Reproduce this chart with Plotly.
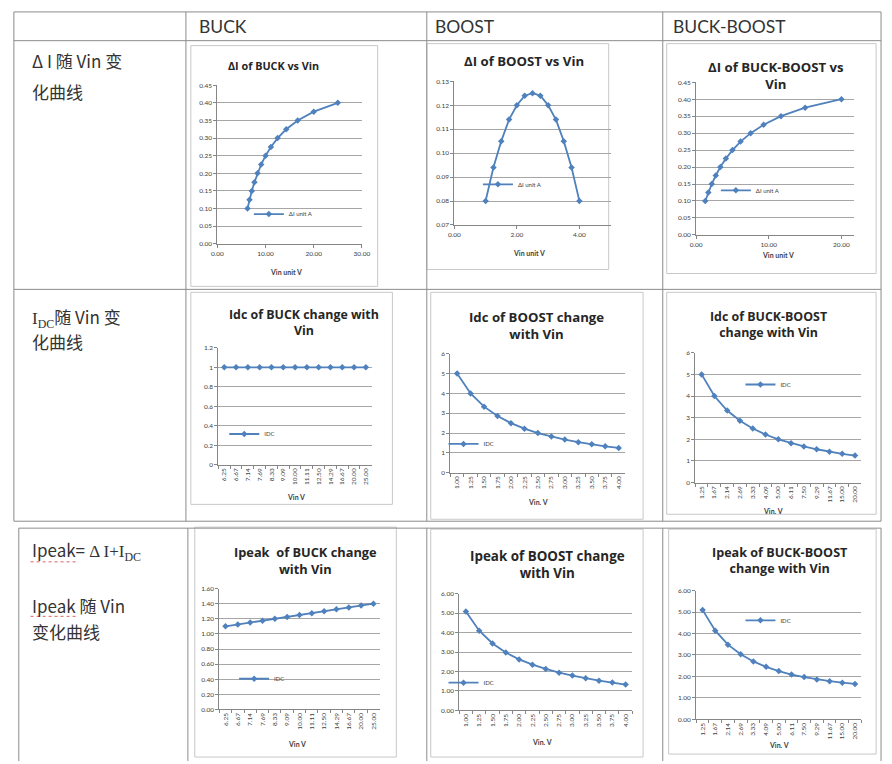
import plotly.graph_objects as go

W, H = 892, 764
def X(p): return p / W
def Y(p): return 1 - p / H

# ---------------- data ----------------
header_labels = ["BUCK", "BOOST", "BUCK-BOOST"]
vin_buck = [6.25, 6.67, 7.14, 7.69, 8.33, 9.09, 10.00, 11.11, 12.50, 14.29, 16.67, 20.00, 25.00]
vin_boost = [1.00, 1.25, 1.50, 1.75, 2.00, 2.25, 2.50, 2.75, 3.00, 3.25, 3.50, 3.75, 4.00]
vin_bb = [1.25, 1.67, 2.14, 2.69, 3.33, 4.09, 5.00, 6.11, 7.50, 9.29, 11.67, 15.00, 20.00]

di_buck = [0.100, 0.125, 0.150, 0.175, 0.200, 0.225, 0.250, 0.275, 0.300, 0.325, 0.350, 0.375, 0.400]
di_boost = [0.080, 0.094, 0.105, 0.114, 0.120, 0.124, 0.125, 0.124, 0.120, 0.114, 0.105, 0.094, 0.080]
di_bb = [0.100, 0.125, 0.150, 0.175, 0.200, 0.225, 0.250, 0.275, 0.300, 0.325, 0.350, 0.375, 0.400]

idc_buck = [1, 1, 1, 1, 1, 1, 1, 1, 1, 1, 1, 1, 1]
idc_boost = [5.00, 4.00, 3.33, 2.86, 2.50, 2.22, 2.00, 1.82, 1.67, 1.54, 1.43, 1.33, 1.25]
idc_bb = [5.00, 4.00, 3.33, 2.86, 2.50, 2.22, 2.00, 1.82, 1.67, 1.54, 1.43, 1.33, 1.25]

ipk_buck = [1.100, 1.125, 1.150, 1.175, 1.200, 1.225, 1.250, 1.275, 1.300, 1.325, 1.350, 1.375, 1.400]
ipk_boost = [5.08, 4.09, 3.44, 2.97, 2.62, 2.35, 2.13, 1.94, 1.79, 1.65, 1.53, 1.43, 1.33]
ipk_bb = [5.10, 4.13, 3.48, 3.03, 2.70, 2.45, 2.25, 2.09, 1.97, 1.86, 1.78, 1.71, 1.65]

series_di = "ΔI unit A"
series_idc = "IDC"

BLUE = "#4F81BD"
GRID = "#a6a6a6"
AXC = "#868686"
TXT = "#404040"
LAT = "Lato, 'Open Sans', sans-serif"
OPS = "'Open Sans', Lato, sans-serif"
CJK = "'Noto Sans CJK SC', sans-serif"
SERIF = "'Liberation Serif', 'DejaVu Serif', serif"

# ---------------- chart specs ----------------
charts = [
    dict(x=vin_buck, y=di_buck, name=series_di, cat=False,
         title="ΔI of BUCK vs Vin", tpos=(272, 62), tsize=10.8,
         dom=(215, 362, 82, 242), xr=[0, 30], xd=10, yr=[0, 0.45], yd=0.05, yf=".2f",
         xt="Vin unit V", xtpos=(285, 270), leg=(247, 212), box=(188, 42, 378, 285)),
    dict(x=vin_boost, y=di_boost, name=series_di, cat=False,
         title="ΔI of BOOST vs Vin", tpos=(527, 58), tsize=13.2,
         dom=(456, 615, 78, 223), xr=[0, 5], xd=2, yr=[0.07, 0.13], yd=0.01, yf=".2f",
         xt="Vin unit V", xtpos=(532, 251), leg=(480, 182), box=(428, 40, 613, 268)),
    dict(x=vin_bb, y=di_bb, name=series_di, cat=False,
         title="ΔI of BUCK-BOOST vs<br>Vin", tpos=(783, 72), tsize=13.2,
         dom=(702, 863, 79, 233), xr=[0, 21.8], xd=10, yr=[0, 0.45], yd=0.05, yf=".2f",
         xt="Vin unit V", xtpos=(785, 253), leg=(722, 188), box=(672, 40, 885, 272)),
    dict(x=vin_buck, y=idc_buck, name=series_idc, cat=True,
         title="Idc of BUCK change with<br>Vin", tpos=(303, 321), tsize=12.4,
         dom=(216, 372, 347, 465), yr=[0, 1.2], yd=0.2, yf="",
         xt="Vin V", xtpos=(295, 498), leg=(222, 434), box=(188, 291, 393, 505)),
    dict(x=vin_boost, y=idc_boost, name=series_idc, cat=True,
         title="Idc of BOOST change<br>with Vin", tpos=(540, 324), tsize=13.2,
         dom=(452, 630, 353, 473), yr=[0, 6], yd=1, yf="",
         xt="Vin. V", xtpos=(541, 503), leg=(445, 444), box=(432, 291, 648, 520)),
    dict(x=vin_bb, y=idc_bb, name=series_idc, cat=True,
         title="Idc of BUCK-BOOST<br>change with Vin", tpos=(776, 323), tsize=12.4,
         dom=(701, 870, 352, 483), yr=[0, 6], yd=1, yf="",
         xt="Vin. V", xtpos=(780, 512), leg=(747, 384), box=(672, 291, 885, 515)),
    dict(x=vin_buck, y=ipk_buck, name=series_idc, cat=True,
         title="Ipeak  of BUCK change<br>with Vin", tpos=(305, 562), tsize=12.8,
         dom=(217, 380, 590, 712), yr=[0, 1.6], yd=0.2, yf=".2f",
         xt="Vin V", xtpos=(296, 747), leg=(232, 681), box=(192, 528, 397, 760)),
    dict(x=vin_boost, y=ipk_boost, name=series_idc, cat=True,
         title="Ipeak of BOOST change<br>with Vin", tpos=(551, 566), tsize=13.4,
         dom=(461, 637, 595, 713), yr=[0, 6], yd=1, yf=".2f",
         xt="Vin. V", xtpos=(545, 745), leg=(445, 685), box=(432, 530, 648, 760)),
    dict(x=vin_bb, y=ipk_bb, name=series_idc, cat=True,
         title="Ipeak of BUCK-BOOST<br>change with Vin", tpos=(787, 562), tsize=12.6,
         dom=(702, 870, 592, 722), yr=[0, 6], yd=1, yf=".2f",
         xt="Vin. V", xtpos=(786, 748), leg=(747, 622), box=(674, 530, 885, 757)),
]

fig = go.Figure()
layout = dict(width=W, height=H, margin=dict(l=0, r=0, t=0, b=0),
              paper_bgcolor="white", plot_bgcolor="white", showlegend=True)
shapes = []
annotations = []

for i, c in enumerate(charts):
    n = i + 1
    sx = "" if n == 1 else str(n)
    xs = [f"{v:.2f}" for v in c["x"]] if c["cat"] else c["x"]
    legname = "legend" if n == 1 else f"legend{n}"
    fig.add_trace(go.Scatter(
        x=xs, y=c["y"], name=c["name"], mode="lines+markers",
        line=dict(color=BLUE, width=1.8),
        marker=dict(symbol="diamond", size=5, color=BLUE),
        xaxis="x" + sx, yaxis="y" + sx, legend=legname,
    ))
    l, r, t, b = c["dom"]
    xa = dict(domain=[X(l), X(r)], anchor="y" + sx, showline=True, linecolor=AXC,
              linewidth=1, showgrid=False, zeroline=False, ticks="outside", ticklen=3,
              tickcolor=AXC, tickfont=dict(size=6.5, color=TXT, family=LAT), fixedrange=True)
    if c["cat"]:
        xa.update(type="category", range=[-0.5, len(xs) - 0.5], tickangle=-90,
                  tickson="boundaries")
    else:
        xa.update(range=c["xr"], dtick=c["xd"], tick0=0, tickformat=".2f")
    ya = dict(domain=[Y(b), Y(t)], anchor="x" + sx, range=c["yr"], dtick=c["yd"], tick0=0,
              showline=True, linecolor=AXC, linewidth=1, showgrid=True, gridcolor=GRID,
              gridwidth=1, zeroline=False, ticks="outside", ticklen=3, tickcolor=AXC,
              tickfont=dict(size=6.5, color=TXT, family=LAT), fixedrange=True)
    if c["yf"]:
        ya["tickformat"] = c["yf"]
    layout["xaxis" + sx] = xa
    layout["yaxis" + sx] = ya
    lx, ly = c["leg"]
    layout[legname] = dict(x=X(lx), y=Y(ly), xanchor="left", yanchor="middle",
                           bgcolor="rgba(0,0,0,0)", borderwidth=0,
                           font=dict(size=6, color=TXT, family=LAT), itemwidth=30)
    tx, ty = c["tpos"]
    annotations.append(dict(text="<b>" + c["title"] + "</b>", x=X(tx), y=Y(ty),
                            xref="paper", yref="paper", showarrow=False,
                            xanchor="center", yanchor="middle",
                            font=dict(size=c["tsize"], color="#262626", family=OPS)))
    ax_, ay_ = c["xtpos"]
    annotations.append(dict(text="<b>" + c["xt"] + "</b>", x=X(ax_), y=Y(ay_),
                            xref="paper", yref="paper", showarrow=False,
                            xanchor="center", yanchor="middle",
                            font=dict(size=7, color=TXT, family=LAT)))
    bx0, by0, bx1, by1 = c["box"]
    shapes.append(dict(type="rect", xref="paper", yref="paper", x0=X(bx0), x1=X(bx1),
                       y0=Y(by1), y1=Y(by0), line=dict(color="#c8c8c8", width=1),
                       layer="below"))

# ---------------- table grid ----------------
LINE = "#8c8c8c"
def hline(y, x0, x1, w=1, col=LINE):
    shapes.append(dict(type="line", xref="paper", yref="paper", x0=X(x0), x1=X(x1),
                       y0=Y(y), y1=Y(y), line=dict(color=col, width=w)))
def vline(x, y0, y1, w=1, col=LINE):
    shapes.append(dict(type="line", xref="paper", yref="paper", x0=X(x), x1=X(x),
                       y0=Y(y0), y1=Y(y1), line=dict(color=col, width=w)))

for yy in [8, 37, 288, 522]:
    hline(yy, 8, 890)
for xx in [8, 183, 428, 668, 890]:
    vline(xx, 8, 522)
hline(529, 13, 890)
for xx in [13, 185, 428, 668, 890]:
    vline(xx, 529, 764)

# headers
for lab, hx in zip(header_labels, [194, 434, 676]):
    annotations.append(dict(text=lab, x=X(hx), y=Y(23), xref="paper", yref="paper",
                            showarrow=False, xanchor="left", yanchor="middle",
                            font=dict(size=17.5, color="#333333", family=LAT)))

# row labels
SER = "<span style=\"font-family:'Liberation Serif', serif\">"
row_texts = [
    ("Δ I 随 Vin 变", 24, 57), ("化曲线", 24, 88),
    (SER + "I<sub>DC</sub></span>随 Vin 变", 24, 316), ("化曲线", 24, 341),
    ("Ipeak=" + SER + " Δ I+I<sub>DC</sub></span>", 24, 552),
    ("Ipeak 随 Vin", 24, 607), ("变化曲线", 24, 633),
]
for txt, rx, ry in row_texts:
    annotations.append(dict(text=txt, x=X(rx), y=Y(ry), xref="paper", yref="paper",
                            showarrow=False, xanchor="left", yanchor="middle",
                            font=dict(size=17, color="#333333", family=CJK)))
# spell-check underlines
shapes.append(dict(type="line", xref="paper", yref="paper", x0=X(25), x1=X(72),
                   y0=Y(563), y1=Y(563), line=dict(color="#e06060", width=1, dash="dot")))
shapes.append(dict(type="line", xref="paper", yref="paper", x0=X(25), x1=X(72),
                   y0=Y(618), y1=Y(618), line=dict(color="#e06060", width=1, dash="dot")))

layout["shapes"] = shapes
layout["annotations"] = annotations
fig.update_layout(**layout)
fig.write_html("out.html")
